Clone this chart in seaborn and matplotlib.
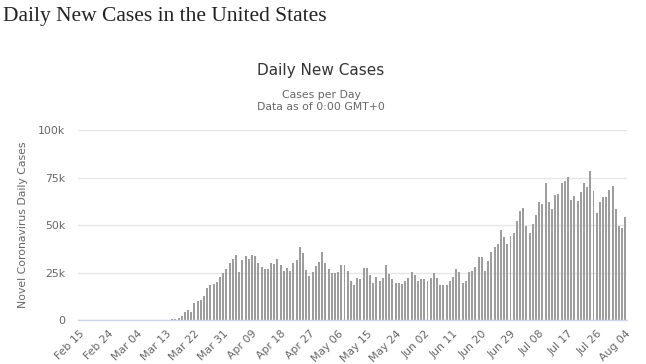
import matplotlib
matplotlib.use("Agg")
import matplotlib.pyplot as plt
import seaborn as sns
import pandas as pd

# ---- data ----
dates = pd.date_range("2020-02-15", "2020-08-04", freq="D")

cases_feb = [0, 0, 0, 0, 0, 1, 0, 0, 0, 18, 0, 6, 1, 0, 4]
cases_mar_early = [8, 23, 20, 31, 68, 45, 140, 116, 65, 376, 322, 382, 300, 350]
cases_mar_late = [500, 600, 1200, 2200, 4200, 5300, 4400, 9000, 10300, 10800,
                  12900, 17000, 18800, 19000, 20000, 22900, 25000]
cases_apr = [26800, 30300, 32400, 34300, 25500, 31600, 33900, 32100, 34100, 34000,
             30300, 27800, 26800, 27100, 30300, 29800, 32100, 29100, 25900, 27700,
             25800, 30300, 31600, 38700, 35500, 26400, 23200, 25400, 28400, 30700]
cases_may = [36000, 30000, 27100, 24600, 24600, 25500, 29300, 29300, 25900, 20700,
             18300, 22300, 21800, 27700, 27300, 23900, 19700, 22900, 20600, 22300,
             28900, 24500, 21500, 19700, 19700, 19300, 20600, 22300, 25400, 23600,
             20600]
cases_jun = [21800, 21800, 20600, 22300, 25000, 22300, 18600, 18600, 18600, 20600,
             23000, 27200, 25400, 19700, 20600, 25400, 25900, 27800, 33500, 33200,
             25700, 31000, 35800, 38300, 40100, 47500, 43600, 40100, 44300, 45900]
cases_jul = [52300, 57600, 59200, 49600, 45900, 50500, 55500, 62200, 61300, 72300,
             61900, 58300, 65600, 66100, 72000, 73400, 75200, 63100, 65100, 62800,
             67600, 72000, 69900, 78500, 67900, 56600, 61900, 64900, 64900, 68400,
             70700]
cases_aug = [58300, 49300, 48400, 54100]

cases = (cases_feb + cases_mar_early + cases_mar_late + cases_apr + cases_may
         + cases_jun + cases_jul + cases_aug)

tick_labels = ["Feb 15", "Feb 24", "Mar 04", "Mar 13", "Mar 22", "Mar 31",
               "Apr 09", "Apr 18", "Apr 27", "May 06", "May 15", "May 24",
               "Jun 02", "Jun 11", "Jun 20", "Jun 29", "Jul 08", "Jul 17",
               "Jul 26", "Aug 04"]
y_ticks = [0, 25000, 50000, 75000, 100000]
y_tick_labels = ["0", "25k", "50k", "75k", "100k"]

n = min(len(dates), len(cases))
df = pd.DataFrame({"date": [d.strftime("%b %d") for d in dates[:n]],
                   "cases": cases[:n]})

# ---- figure ----
sns.set_theme(style="white")
plt.rcParams["font.family"] = ["DejaVu Sans"]

fig = plt.figure(figsize=(6.46, 3.64), dpi=100)
ax = fig.add_axes([0.1207, 0.120, 0.8499, 0.523])

sns.barplot(data=df, x="date", y="cases", color="#9d9d9d", saturation=1,
            width=0.62, ax=ax, linewidth=0)

ax.set_ylim(0, 100000)
ax.set_xlim(-0.5, n - 0.5)
ax.set_yticks(y_ticks)
ax.set_yticklabels(y_tick_labels, fontsize=7.8, color="#666666")
ax.yaxis.grid(True, color="#e6e6e6", linewidth=1)
ax.set_axisbelow(True)

tick_pos = list(range(0, n, 9))
ax.set_xticks(tick_pos)
ax.set_xticklabels(tick_labels[:len(tick_pos)], rotation=45, ha="right",
                   rotation_mode="anchor", fontsize=7.8, color="#666666")
ax.tick_params(axis="both", length=0, pad=6)
ax.tick_params(axis="y", pad=9)

for s in ["top", "right", "left"]:
    ax.spines[s].set_visible(False)
ax.spines["bottom"].set_color("#ccd6eb")
ax.spines["bottom"].set_linewidth(1)

ax.set_xlabel("")
ax.set_ylabel("Novel Coronavirus Daily Cases", fontsize=7.8, color="#666666",
              labelpad=7)

fig.text(0.005, 0.955, "Daily New Cases in the United States",
         fontsize=15.5, family="Liberation Serif", color="#222222",
         ha="left", va="center")
fig.text(0.497, 0.805, "Daily New Cases", fontsize=11, color="#333333",
         ha="center", va="center")
fig.text(0.497, 0.738, "Cases per Day", fontsize=7.8, color="#666666",
         ha="center", va="center")
fig.text(0.497, 0.705, "Data as of 0:00 GMT+0", fontsize=7.8, color="#666666",
         ha="center", va="center")

fig.savefig("out.png", dpi=100)
